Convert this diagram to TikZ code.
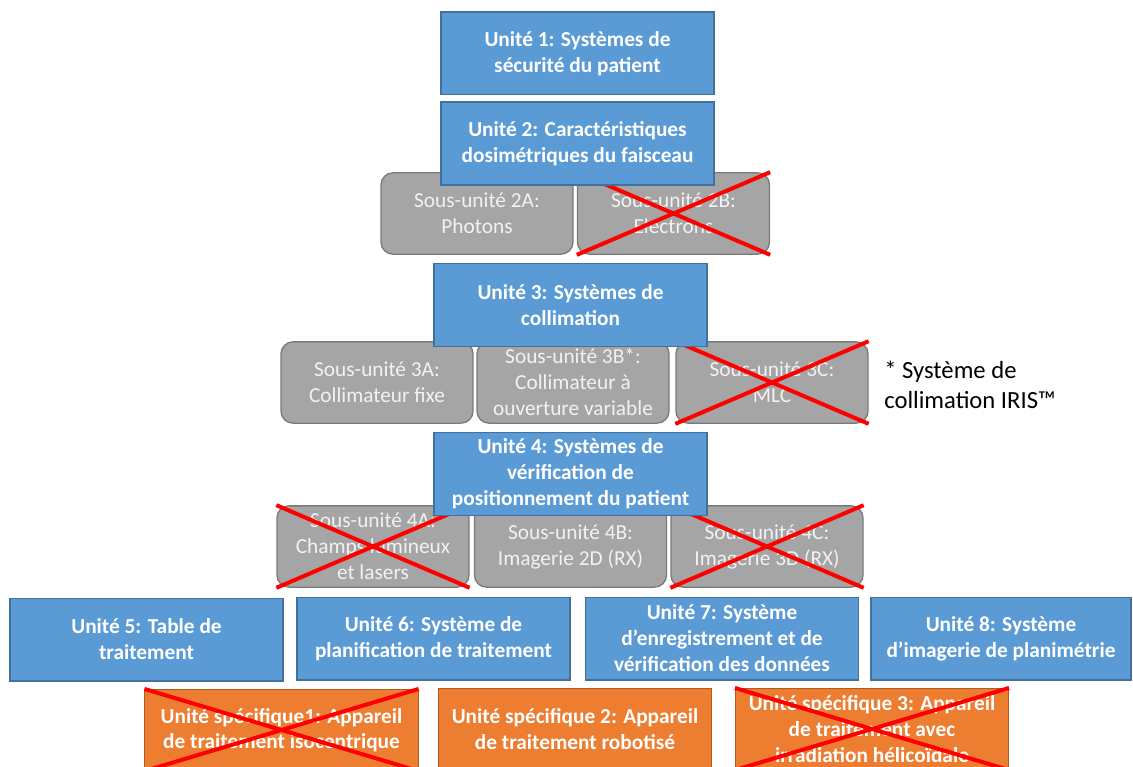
\documentclass[tikz,border=0pt]{standalone}
\usepackage{fontspec}
\setmainfont{Carlito}
\usepackage{tikz}
\usetikzlibrary{positioning}
\definecolor{unitblue}{HTML}{5B9BD5}
\definecolor{unitedge}{HTML}{41719C}
\definecolor{subgrey}{HTML}{A5A5A5}
\definecolor{subedge}{HTML}{7A7A7A}
\definecolor{subtext}{HTML}{F2F2F2}
\definecolor{specorange}{HTML}{ED7D31}
\definecolor{specedge}{HTML}{AE5A21}
\definecolor{crossred}{HTML}{FF0000}

\begin{document}
\begin{tikzpicture}[
  x=0.75pt, y=-0.75pt,
  unit/.style={draw=unitedge, fill=unitblue, line width=1pt,
               minimum width=204.75pt, minimum height=62pt, inner sep=2pt,
               align=center, text=white,
               font=\fontsize{16}{19.5}\selectfont\bfseries},
  subunit/.style={draw=subedge, fill=subgrey, line width=1pt, rounded corners=9pt,
                  minimum width=144pt, minimum height=61pt, inner sep=2pt,
                  align=center, text=subtext,
                  font=\fontsize{16}{19.5}\selectfont},
  special/.style={draw=specedge, fill=specorange, line width=0.6pt,
                  minimum width=205pt, minimum height=61pt, inner sep=2pt,
                  align=center, text=white,
                  font=\fontsize{16}{19.2}\selectfont\bfseries},
  cross/.style={crossred, line width=3pt},
  note/.style={anchor=west, align=left, inner sep=0pt,
               font=\fontsize{18.5}{22.5}\selectfont},
]
\useasboundingbox (0,0) rectangle (1133,767);

% sous-unites (under the units)
\node[subunit] (s2a) at (477,213.5) {Sous-unité 2A:\\Photons};
\node[subunit] (s2b) at (673.5,213.5) {Sous-unité 2B:\\Electrons};
\node[subunit] (s3a) at (377,382.5) {Sous-unité 3A:\\Collimateur fixe};
\node[subunit] (s3b) at (573,382.5) {Sous-unité 3B*:\\Collimateur à\\ouverture variable};
\node[subunit] (s3c) at (772,382.5) {Sous-unité 3C:\\MLC};
\node[subunit] (s4a) at (373,546.5) {Sous-unité 4A:\\Champs lumineux\\et lasers};
\node[subunit] (s4b) at (570.5,546.5) {Sous-unité 4B:\\Imagerie 2D (RX)};
\node[subunit] (s4c) at (767,546.5) {Sous-unité 4C:\\Imagerie 3D (RX)};

\foreach \n in {s2b,s3c,s4a,s4c}
  \draw[cross] (\n.north west) -- (\n.south east) (\n.south west) -- (\n.north east);

% unites
\node[unit] (u1) at (577.5,53.5) {Unité 1: Systèmes de\\sécurité du patient};
\node[unit] (u2) at (577.5,143.5) {Unité 2: Caractéristiques\\dosimétriques du faisceau};
\node[unit] (u3) at (570.5,305) {Unité 3: Systèmes de\\collimation};
\node[unit] (u4) at (570.5,474) {Unité 4: Systèmes de\\vérification de\\positionnement du patient};
\node[unit] (u5) at (146.5,639.5) {Unité 5: Table de\\traitement};
\node[unit] (u6) at (433.5,638.5) {Unité 6: Système de\\planification de traitement};
\node[unit] (u7) at (722,638.5) {Unité 7: Système\\d’enregistrement et de\\vérification des données};
\node[unit, minimum width=195pt] (u8) at (1001,638.5) {Unité 8: Système\\d’imagerie de planimétrie};

\node[note] (iris) at (884,385) {* Système de\\collimation IRIS™};

% unites specifiques
\node[special] (sp1) at (281.5,730) {Unité spécifique1: Appareil\\de traitement isocentrique};
\node[special] (sp2) at (575,729) {Unité spécifique 2: Appareil\\de traitement robotisé};
\node[special] (sp3) at (872,729) {Unité spécifique 3: Appareil\\de traitement avec\\irradiation hélicoïdale};

\foreach \n in {sp1,sp3}
  \draw[cross] (\n.north west) -- (\n.south east) (\n.south west) -- (\n.north east);

\end{tikzpicture}
\end{document}
